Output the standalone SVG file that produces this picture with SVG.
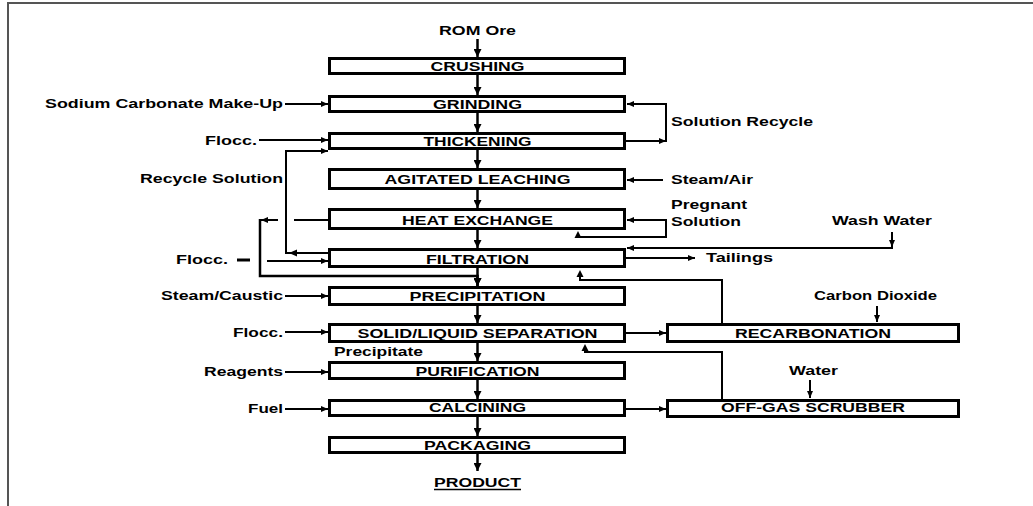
<svg xmlns="http://www.w3.org/2000/svg" width="1033" height="506" viewBox="0 0 1033 506">
<style>
text{font-family:"Liberation Sans",Arial,sans-serif;font-weight:bold;font-size:13.5px;fill:#000}
.c{text-anchor:middle}
.e{text-anchor:end}
.box{fill:#fff;stroke:#000;stroke-width:3}
.ln{fill:none;stroke:#000;stroke-width:2}
.mn{fill:none;stroke:#000;stroke-width:2.5}
.ah{fill:#000}
</style>
<defs>
<marker id="a" markerUnits="userSpaceOnUse" markerWidth="7" markerHeight="6" refX="7" refY="3" orient="auto"><path d="M0,0 L7,3 L0,6 z" fill="#000"/></marker>
<marker id="b" markerUnits="userSpaceOnUse" markerWidth="8" markerHeight="8" refX="8" refY="4" orient="auto"><path d="M0,0 L8,4 L0,8 z" fill="#000"/></marker>
</defs>
<rect width="1033" height="506" fill="#fff"/>
<path d="M8,506 V3 H1033" fill="none" stroke="#555" stroke-width="2"/>

<g id="connectors">
<path class="mn" marker-end="url(#b)" d="M477.5,39 V57"/>
<path class="mn" marker-end="url(#b)" d="M477.5,75 V95"/>
<path class="mn" marker-end="url(#b)" d="M477.5,113 V132"/>
<path class="mn" marker-end="url(#b)" d="M477.5,150 V168"/>
<path class="mn" marker-end="url(#b)" d="M477.5,190 V208"/>
<path class="mn" marker-end="url(#b)" d="M477.5,230 V248"/>
<path class="mn" marker-end="url(#b)" d="M477.5,268 V286"/>
<path class="mn" marker-end="url(#b)" d="M477.5,306 V323"/>
<path class="mn" marker-end="url(#b)" d="M477.5,343 V361"/>
<path class="mn" marker-end="url(#b)" d="M477.5,380 V399"/>
<path class="mn" marker-end="url(#b)" d="M477.5,417 V436"/>
<path class="mn" marker-end="url(#b)" d="M477.5,454 V471"/>

<path class="ln" marker-end="url(#a)" d="M285,104 H328"/>
<path class="ln" marker-end="url(#a)" d="M259,140 H328"/>
<path class="ln" marker-end="url(#a)" d="M328,253 H286 V151 H328"/>
<path class="ah" d="M289,253 L297,249.5 L297,256.5 z"/>
<path class="ln" d="M328,220 H294"/>
<path class="ln" marker-end="url(#a)" d="M278,220 H261"/>
<path class="mn" marker-end="url(#b)" d="M260,219 V276 H477.5 V286"/>
<path d="M237,260 H250" stroke="#000" stroke-width="3"/>
<path class="ln" marker-end="url(#a)" d="M267,261 H328"/>
<path class="ln" marker-end="url(#a)" d="M285,296 H328"/>
<path class="ln" marker-end="url(#a)" d="M285,332 H328"/>
<path class="ln" marker-end="url(#a)" d="M285,372 H328"/>
<path class="ln" marker-end="url(#a)" d="M285,409 H328"/>

<path class="ln" marker-end="url(#a)" d="M626,141 H666"/>
<path class="ln" marker-end="url(#a)" d="M666,142 V104 H627"/>
<path class="ln" marker-end="url(#a)" d="M663,180 H627"/>
<path class="ln" marker-end="url(#a)" d="M666,220 H627"/>
<path class="ln" d="M666,219 V237 H578 V236"/>
<path class="ah" d="M578,231 L574.5,238 L581.5,238 z"/>
<path class="ln" marker-end="url(#a)" d="M892,232 V247"/>
<path class="ln" marker-end="url(#a)" d="M893,248 H627"/>
<path class="ln" marker-end="url(#a)" d="M626,258 H695"/>
<path class="ln" d="M722,323 V280 H580 V276"/>
<path class="ah" d="M580,270 L576.5,277 L583.5,277 z"/>
<path class="ln" marker-end="url(#a)" d="M626,333 H666"/>
<path class="ln" marker-end="url(#a)" d="M877,306 V322"/>
<path class="ln" d="M722,399 V352 H585 V350"/>
<path class="ah" d="M585,344 L581.5,351 L588.5,351 z"/>
<path class="ln" marker-end="url(#a)" d="M626,409 H666"/>
<path class="ln" marker-end="url(#a)" d="M810,380 V398"/>
</g>

<g id="crushing"><rect class="box" x="329.5" y="58.5" width="295" height="15"/><text class="c" x="477.5" y="71" textLength="94" lengthAdjust="spacingAndGlyphs">CRUSHING</text></g>
<g id="grinding"><rect class="box" x="329.5" y="96.5" width="295" height="15"/><text class="c" x="477.5" y="109" textLength="89" lengthAdjust="spacingAndGlyphs">GRINDING</text></g>
<g id="thickening"><rect class="box" x="329.5" y="133.5" width="295" height="15"/><text class="c" x="477.5" y="146" textLength="108" lengthAdjust="spacingAndGlyphs">THICKENING</text></g>
<g id="leaching"><rect class="box" x="329.5" y="169.5" width="295" height="19"/><text class="c" x="477.5" y="184" textLength="186" lengthAdjust="spacingAndGlyphs">AGITATED LEACHING</text></g>
<g id="heatexchange"><rect class="box" x="329.5" y="209.5" width="295" height="19"/><text class="c" x="477.5" y="225" textLength="151" lengthAdjust="spacingAndGlyphs">HEAT EXCHANGE</text></g>
<g id="filtration"><rect class="box" x="329.5" y="249.5" width="295" height="17"/><text class="c" x="477.5" y="264" textLength="103" lengthAdjust="spacingAndGlyphs">FILTRATION</text></g>
<g id="precipitation"><rect class="box" x="329.5" y="287.5" width="295" height="17"/><text class="c" x="477.5" y="301" textLength="136" lengthAdjust="spacingAndGlyphs">PRECIPITATION</text></g>
<g id="sls"><rect class="box" x="329.5" y="324.5" width="295" height="17"/><text class="c" x="477.5" y="338" textLength="240" lengthAdjust="spacingAndGlyphs">SOLID/LIQUID SEPARATION</text></g>
<g id="purification"><rect class="box" x="329.5" y="362.5" width="295" height="16"/><text class="c" x="477.5" y="376" textLength="124" lengthAdjust="spacingAndGlyphs">PURIFICATION</text></g>
<g id="calcining"><rect class="box" x="329.5" y="400.5" width="295" height="15"/><text class="c" x="477.5" y="412" textLength="97" lengthAdjust="spacingAndGlyphs">CALCINING</text></g>
<g id="packaging"><rect class="box" x="329.5" y="437.5" width="295" height="15"/><text class="c" x="477.5" y="450" textLength="107" lengthAdjust="spacingAndGlyphs">PACKAGING</text></g>
<g id="recarbonation"><rect class="box" x="667.5" y="324.5" width="291" height="17"/><text class="c" x="813" y="338" textLength="156" lengthAdjust="spacingAndGlyphs">RECARBONATION</text></g>
<g id="scrubber"><rect class="box" x="667.5" y="400.5" width="291" height="16"/><text class="c" x="813" y="412" textLength="184" lengthAdjust="spacingAndGlyphs">OFF-GAS SCRUBBER</text></g>

<g id="labels">
<text class="c" x="477.5" y="35" textLength="77" lengthAdjust="spacingAndGlyphs">ROM Ore</text>
<text class="c" x="477.5" y="487" textLength="87" lengthAdjust="spacingAndGlyphs">PRODUCT</text>
<path d="M434,489.5 H521" stroke="#000" stroke-width="1.5"/>
<text x="334" y="356" textLength="89" lengthAdjust="spacingAndGlyphs">Precipitate</text>
<text class="e" x="283" y="108" textLength="238" lengthAdjust="spacingAndGlyphs">Sodium Carbonate Make-Up</text>
<text class="e" x="257" y="145" textLength="52" lengthAdjust="spacingAndGlyphs">Flocc.</text>
<text class="e" x="283" y="183" textLength="143" lengthAdjust="spacingAndGlyphs">Recycle Solution</text>
<text class="e" x="228" y="264" textLength="52" lengthAdjust="spacingAndGlyphs">Flocc.</text>
<text class="e" x="283" y="300" textLength="122" lengthAdjust="spacingAndGlyphs">Steam/Caustic</text>
<text class="e" x="283" y="337" textLength="50" lengthAdjust="spacingAndGlyphs">Flocc.</text>
<text class="e" x="283" y="376" textLength="79" lengthAdjust="spacingAndGlyphs">Reagents</text>
<text class="e" x="283" y="413" textLength="35" lengthAdjust="spacingAndGlyphs">Fuel</text>
<text x="671" y="126" textLength="142" lengthAdjust="spacingAndGlyphs">Solution Recycle</text>
<text x="671" y="184" textLength="82" lengthAdjust="spacingAndGlyphs">Steam/Air</text>
<text x="671" y="209" textLength="76" lengthAdjust="spacingAndGlyphs">Pregnant</text>
<text x="671" y="226" textLength="70" lengthAdjust="spacingAndGlyphs">Solution</text>
<text x="832" y="225" textLength="100" lengthAdjust="spacingAndGlyphs">Wash Water</text>
<text x="706" y="262" textLength="67" lengthAdjust="spacingAndGlyphs">Tailings</text>
<text x="814" y="300" textLength="123" lengthAdjust="spacingAndGlyphs">Carbon Dioxide</text>
<text x="789" y="375" textLength="49" lengthAdjust="spacingAndGlyphs">Water</text>
</g>
</svg>
